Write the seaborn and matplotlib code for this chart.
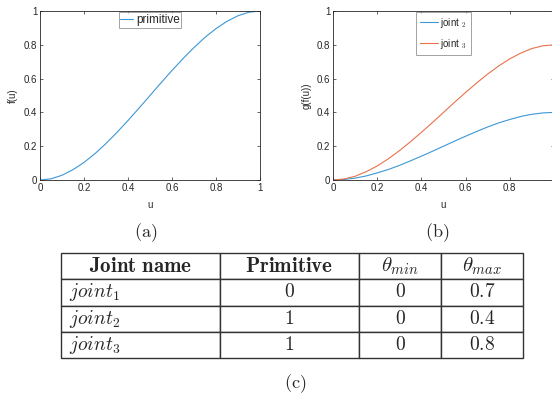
import matplotlib
matplotlib.use("Agg")
import matplotlib.pyplot as plt
import seaborn as sns

# ---- data ----
u = [0.0, 0.05, 0.1, 0.15, 0.2, 0.25, 0.3, 0.35, 0.4, 0.45, 0.5,
     0.55, 0.6, 0.65, 0.7, 0.75, 0.8, 0.85, 0.9, 0.95, 1.0]
f_prim = [0.0, 0.007, 0.028, 0.061, 0.104, 0.156, 0.216, 0.282, 0.352, 0.425, 0.5,
          0.575, 0.648, 0.718, 0.784, 0.844, 0.896, 0.939, 0.972, 0.993, 1.0]
g_joint2 = [0.0, 0.003, 0.011, 0.024, 0.042, 0.062, 0.086, 0.113, 0.141, 0.17, 0.2,
            0.23, 0.259, 0.287, 0.314, 0.338, 0.358, 0.376, 0.389, 0.397, 0.4]
g_joint3 = [0.0, 0.006, 0.022, 0.049, 0.083, 0.125, 0.173, 0.226, 0.282, 0.34, 0.4,
            0.46, 0.518, 0.574, 0.627, 0.675, 0.717, 0.751, 0.778, 0.794, 0.8]
ticks = [0, 0.2, 0.4, 0.6, 0.8, 1]
tick_labels = ["0", "0.2", "0.4", "0.6", "0.8", "1"]

col_headers = [r"$\mathbf{Joint\ name}$", r"$\mathbf{Primitive}$", r"$\theta_{min}$", r"$\theta_{max}$"]
joint_names = [r"$joint_1$", r"$joint_2$", r"$joint_3$"]
primitive = ["0", "1", "1"]
theta_min = ["0", "0", "0"]
theta_max = ["0.7", "0.4", "0.8"]

# ---- style ----
sns.set_theme(style="white")
plt.rcParams["font.family"] = ["Liberation Sans", "DejaVu Sans"]
plt.rcParams["mathtext.fontset"] = "cm"

BLUE = "#3c97d6"
ORANGE = "#e8724c"
GRAY = "#333333"

W, H = 552, 399
fig = plt.figure(figsize=(W / 100, H / 100), dpi=100)


def px(x0, y0, x1, y1):
    return [x0 / W, 1 - y1 / H, (x1 - x0) / W, (y1 - y0) / H]


def style_axes(ax, ylabel, xlabels):
    ax.set_xlim(0, 1)
    ax.set_ylim(0, 1)
    ax.set_xticks(ticks)
    ax.set_xticklabels(xlabels)
    ax.set_yticks(ticks)
    ax.set_yticklabels(tick_labels)
    ax.tick_params(direction="in", length=2.5, width=0.5, top=True, right=True,
                   labelsize=7, colors="#262626", pad=2,
                   bottom=True, left=True)
    for s in ax.spines.values():
        s.set_linewidth(0.6)
        s.set_color("#262626")
    ax.set_xlabel("u", fontsize=7, color="#262626", labelpad=5)
    ax.set_ylabel(ylabel, fontsize=7, color="#262626", labelpad=4)


# (a)
ax1 = fig.add_axes(px(40, 11, 260, 180))
sns.lineplot(x=u, y=f_prim, ax=ax1, color=BLUE, linewidth=0.8, label="primitive")
style_axes(ax1, "f(u)", tick_labels)
leg1 = ax1.legend(loc="upper center", bbox_to_anchor=(0.5, 1.0), borderaxespad=0.1,
                  fontsize=8.5, frameon=True, fancybox=False, handlelength=1.1,
                  handletextpad=0.2, borderpad=0.15)
leg1.get_frame().set_edgecolor("#777777")
leg1.get_frame().set_linewidth(0.6)

# (b) -- right edge of this panel is cut off by the figure edge
ax2 = fig.add_axes(px(333, 11, 554, 180))
sns.lineplot(x=u, y=g_joint2, ax=ax2, color=BLUE, linewidth=0.8, label=r"joint $_{2}$")
sns.lineplot(x=u, y=g_joint3, ax=ax2, color=ORANGE, linewidth=0.8, label=r"joint $_{3}$")
style_axes(ax2, "g(f(u))", tick_labels[:-1] + [""])
leg2 = ax2.legend(loc="upper center", bbox_to_anchor=(0.5, 1.0), borderaxespad=0.1,
                  fontsize=7, frameon=True, fancybox=False, handlelength=1.8,
                  handletextpad=0.3, borderpad=0.4, labelspacing=0.7)
leg2.get_frame().set_edgecolor("#777777")
leg2.get_frame().set_linewidth(0.6)

# captions
fig.text(146 / W, 1 - 233 / H, r"$\mathrm{(a)}$", ha="center", va="center", fontsize=13)
fig.text(437 / W, 1 - 233 / H, r"$\mathrm{(b)}$", ha="center", va="center", fontsize=13)
fig.text(295 / W, 1 - 384 / H, r"$\mathrm{(c)}$", ha="center", va="center", fontsize=13)

# (c) table
axt = fig.add_axes(px(61, 253, 523, 358))
axt.axis("off")
rows = [[joint_names[i], "$" + primitive[i] + "$", "$" + theta_min[i] + "$", "$" + theta_max[i] + "$"]
        for i in range(len(joint_names))]
col_w = [159, 139, 82, 82]
tot = sum(col_w)
tbl = axt.table(cellText=rows, colLabels=col_headers, bbox=[0, 0, 1, 1],
                colWidths=[c / tot for c in col_w], cellLoc="center")
tbl.auto_set_font_size(False)
for (r, c), cell in tbl.get_celld().items():
    cell.set_edgecolor(GRAY)
    cell.set_linewidth(1.0)
    cell.set_facecolor("white")
    cell.get_text().set_fontsize(15 if r == 0 else 14)
    if c == 0 and r > 0:
        cell.get_text().set_ha("left")
        cell.PAD = 0.05

fig.savefig("out.png", dpi=100)
